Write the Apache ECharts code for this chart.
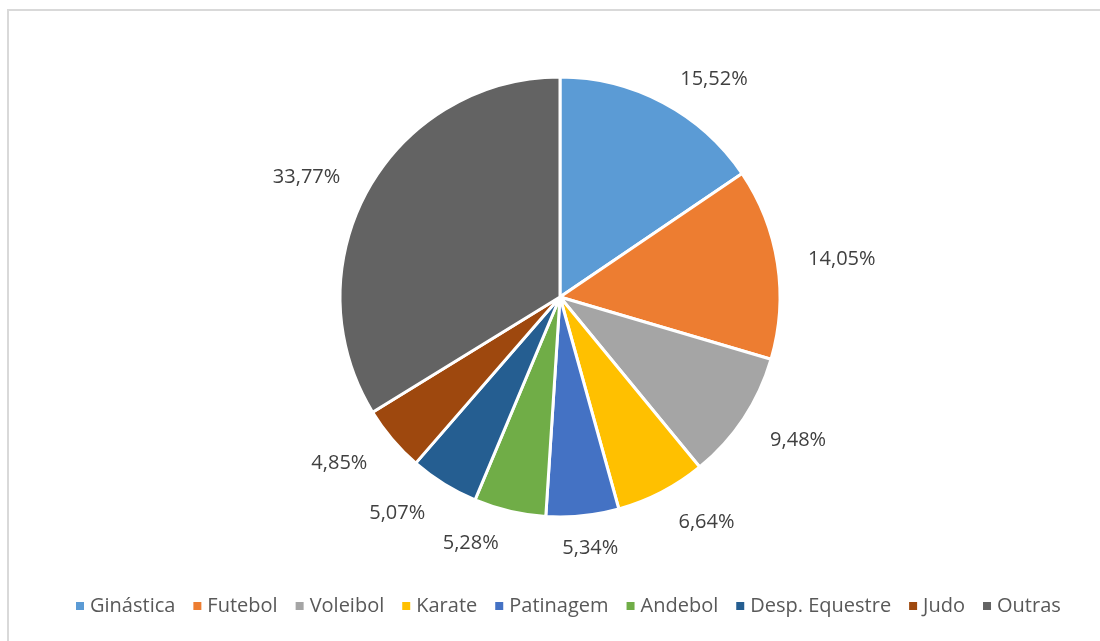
<!DOCTYPE html>
<html>
<head>
<meta charset="utf-8">
<script src="https://cdn.jsdelivr.net/npm/echarts@6/dist/echarts.min.js"></script>
<style>
  html, body { margin: 0; padding: 0; background: #fff; }
  #chart { width: 1100px; height: 641px; }
</style>
</head>
<body>
<div id="chart"></div>
<script>
// modalidades e percentagens
const categories = ['Ginástica', 'Futebol', 'Voleibol', 'Karate', 'Patinagem', 'Andebol', 'Desp. Equestre', 'Judo', 'Outras']
const values = [15.52, 14.05, 9.48, 6.64, 5.34, 5.28, 5.07, 4.85, 33.77]
const colors = ['#5B9BD5', '#ED7D31', '#A5A5A5', '#FFC000', '#4472C4', '#70AD47', '#255E91', '#9E480E', '#636363']

const chart = echarts.init(document.getElementById('chart'))
const font = '"Open Sans", sans-serif'
const cx = 560
const cy = 297

chart.setOption({
  animation: false,
  color: colors,
  graphic: [{
    type: 'rect',
    shape: { x: 8, y: 10, width: 1200, height: 1000 },
    style: { fill: 'none', stroke: '#d9d9d9', lineWidth: 2 },
    silent: true
  }],
  legend: {
    bottom: 20,
    left: 69,
    icon: 'rect',
    itemWidth: 10,
    itemHeight: 10,
    itemGap: 16,
    textStyle: { color: '#595959', fontSize: 20, fontFamily: font },
    data: categories
  },
  series: [{
    type: 'pie',
    center: [cx, cy],
    radius: [0, 220],
    startAngle: 90,
    clockwise: true,
    avoidLabelOverlap: false,
    itemStyle: { borderColor: '#fff', borderWidth: 3 },
    label: {
      show: true,
      position: 'outside',
      formatter: p => p.value.toFixed(2).replace('.', ',') + '%',
      color: '#404040',
      fontSize: 20,
      fontFamily: font
    },
    labelLine: { show: false, length: 26, length2: 0 },
    // labels na metade de baixo ficam um pouco mais afastados, como no Excel
    labelLayout: function (params) {
      const r = params.labelRect
      const res = {}
      if (r.y > cy) res.dy = 7
      if (params.align === 'left' && r.x - cx < 40) res.dx = -r.width / 2
      return res
    },
    emphasis: { disabled: true },
    data: categories.map((c, i) => ({ name: c, value: values[i] }))
  }]
})
</script>
</body>
</html>
